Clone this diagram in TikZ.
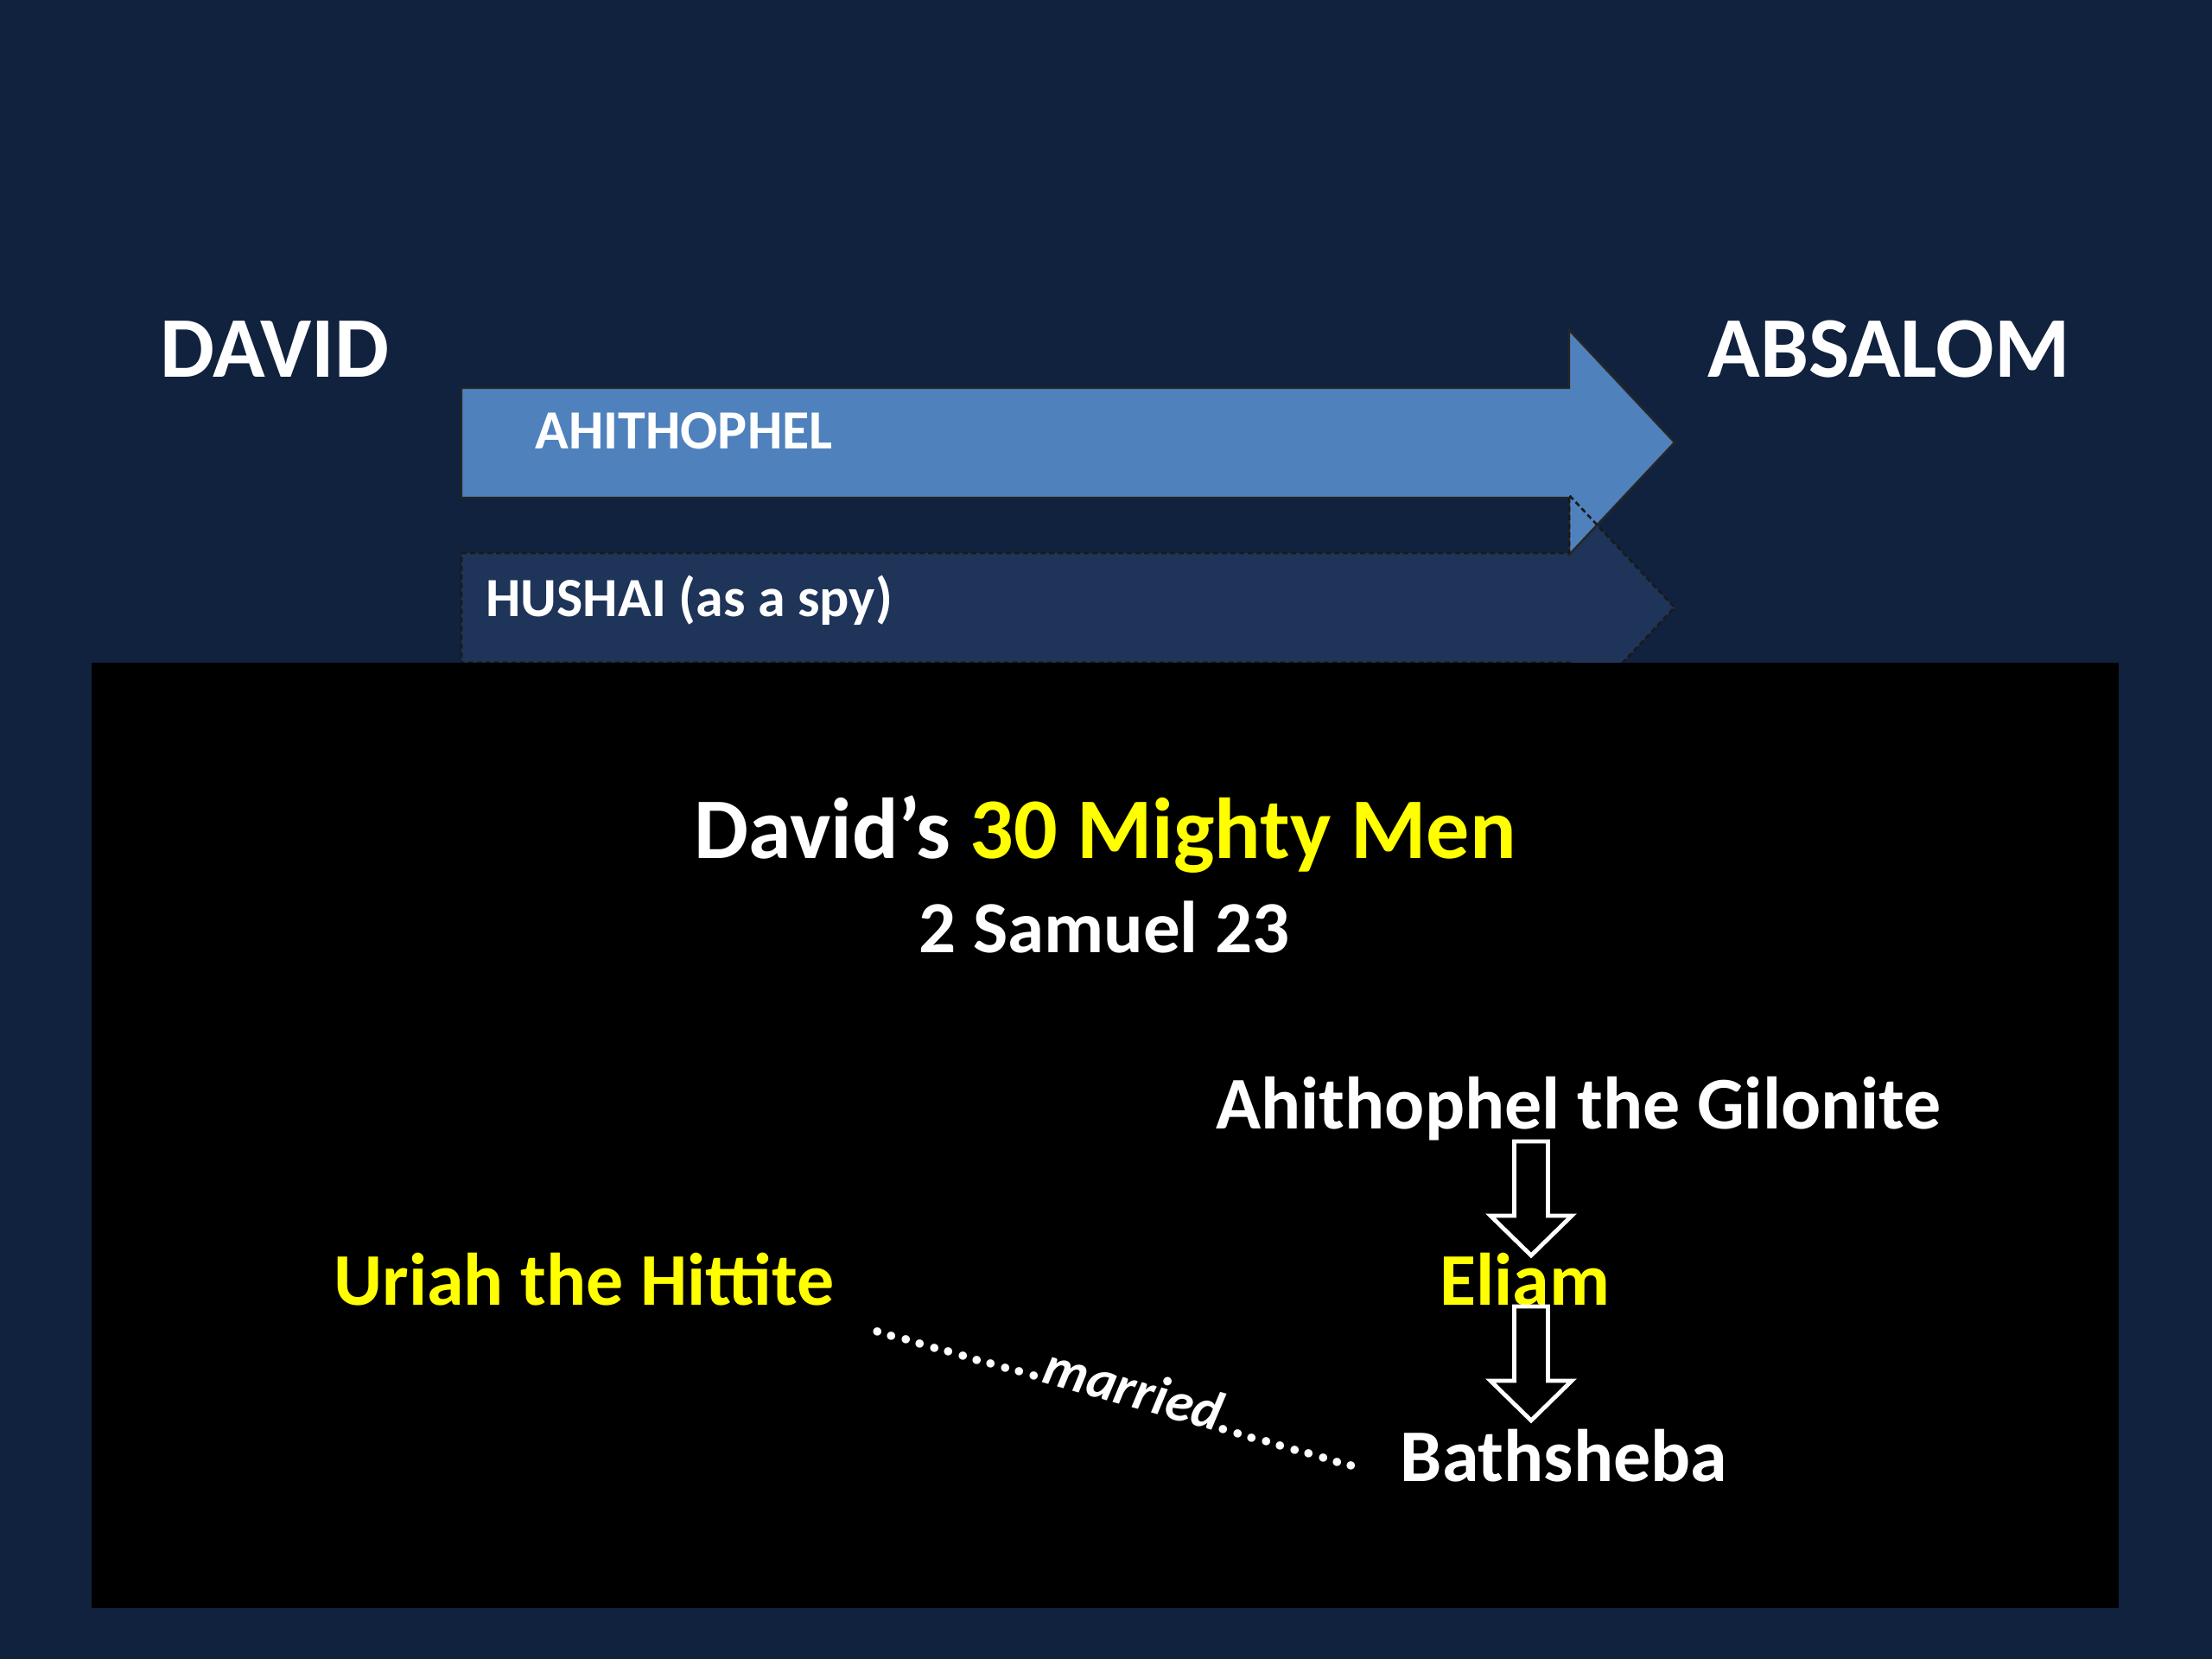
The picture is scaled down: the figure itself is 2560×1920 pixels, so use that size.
\documentclass[tikz,border=0pt]{standalone}
\usepackage{fontspec}
\setmainfont{Carlito}
\definecolor{bgc}{RGB}{17,34,62}
\definecolor{hushfill}{RGB}{30,52,88}
\definecolor{arrowblue}{RGB}{79,129,189}
\definecolor{yel}{RGB}{255,255,0}
\begin{document}
\begin{tikzpicture}[x=0.5pt,y=-0.5pt,
  lbl/.style={inner sep=0,anchor=base,text=white,font=\bfseries\fontsize{#1}{#1}\selectfont},
  hollow/.style={draw=white,line width=2.4pt,fill=black,line join=miter}]
\fill[bgc] (0,0) rectangle (2560,1920);
\useasboundingbox (0,0) rectangle (2560,1920);
% Hushai arrow
\fill[hushfill] (534,640) -- (1816,640) -- (1816,573) -- (1938,703) -- (1816,833) -- (1816,767) -- (534,767) -- cycle;
% Ahithophel arrow
\draw[fill=arrowblue,draw=black!85,line width=1.2pt] (534,449) -- (1816,449) -- (1816,382) -- (1938,512) -- (1816,642) -- (1816,576) -- (534,576) -- cycle;
\draw[dash pattern=on 3pt off 2pt,draw=black!90,line width=1.3pt] (534,640) -- (1816,640) -- (1816,573) -- (1938,703) -- (1816,833) -- (1816,767) -- (534,767) -- cycle;
% panel
\fill[black] (106,767) rectangle (2452,1861);
% labels
\node[lbl=50] (david) at (318,437) {DAVID};
\node[lbl=50] (absalom) at (2186,437) {ABSALOM};
\node[lbl=32,anchor=base west] (ahith) at (619,519) {AHITHOPHEL};
\node[lbl=32,anchor=base west] (hushai) at (562,713) {HUSHAI (as a spy)};
\node[lbl=50] (title) at (1279,993) {David’s {\color{yel}30 Mighty Men}};
\node[lbl=42.5] (ref) at (1278,1102) {2 Samuel 23};
\node[lbl=43] (gil) at (1827,1306) {Ahithophel the Gilonite};
\node[lbl=43,text=yel] (eliam) at (1765,1510) {Eliam};
\node[lbl=43,text=yel] (uriah) at (676,1510) {Uriah the Hittite};
\node[lbl=43] (bath) at (1810,1714) {Bathsheba};
\node[inner sep=0,text=white,rotate=-15.8,font=\bfseries\itshape\fontsize{32}{32}\selectfont] (married) at (1296,1602) {............married..........};
% hollow down arrows
\foreach \t in {1321,1512}{
  \draw[hollow] (1752.5,\t) -- (1791.5,\t) -- (1791.5,\t+86) -- (1819,\t+86) -- (1772,\t+132) -- (1725,\t+86) -- (1752.5,\t+86) -- cycle;
}
\end{tikzpicture}
\end{document}
